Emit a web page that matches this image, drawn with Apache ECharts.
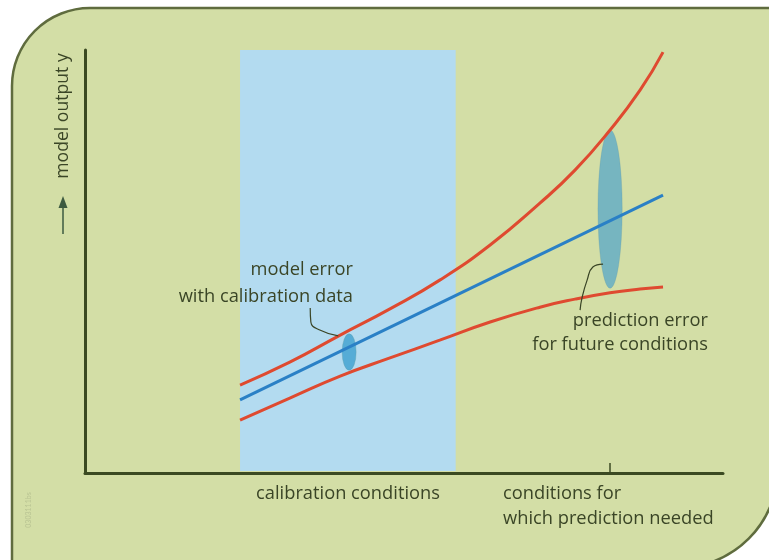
<!DOCTYPE html>
<html>
<head>
<meta charset="utf-8">
<script src="https://cdn.jsdelivr.net/npm/echarts@6/dist/echarts.min.js"></script>
<style>
html,body{margin:0;padding:0;background:#fff}
#main{width:769px;height:560px}
</style>
</head>
<body>
<div id="main"></div>
<script>
// conditions axis (0..10) and model output axis (0..100), no units
var xs = [2.43, 3.21, 4.00, 4.78, 5.56, 6.35, 7.13, 7.68, 8.23, 8.70, 9.06];
var upperBand = [20.8, 26.2, 32.6, 38.8, 45.6, 53.9, 63.8, 71.6, 81.1, 90.5, 99.5];
var lowerBand = [12.5, 17.7, 22.9, 27.2, 31.4, 35.7, 39.2, 41.1, 42.6, 43.5, 44.0];
var modelLine = [[2.43, 17.3], [9.06, 65.7]];
var calibRange = [2.43, 5.81];
var futureTick = [8.23];
// x, y, half width, half height (axis units)
var errorEllipses = [[4.14, 28.6, 0.11, 4.3], [8.23, 62.4, 0.19, 18.7]];
var ellipseColors = ['#55acd6', '#76b5c0'];
var calibHook = [[3.53, 39.0], [3.54, 35.7], [3.68, 33.8], [3.97, 32.4]];
var predHook = [[8.12, 49.4], [7.96, 48.7], [7.87, 45.6], [7.79, 41.4], [7.76, 38.5]];

var txt = '#3a4526';
var font = '18.3px "Open Sans"';

function pairs(x, y){
	var out = [];
	for (var i = 0; i < x.length; i++) out.push([x[i], y[i]]);
	return out;
}
function label(text, x, y, align){
	return {type: 'text', z: 20, x: x, y: y,
		style: {text: text, font: font, fill: txt, align: align, verticalAlign: 'middle'}};
}

var chart = echarts.init(document.getElementById('main'));
var option = {
	animation: false,
	grid: {left: 85, right: 46, top: 50, bottom: 87},
	xAxis: {
		type: 'value', min: 0, max: 10,
		splitLine: {show: false},
		axisLabel: {show: false},
		axisLine: {show: true, lineStyle: {color: '#3b4a22', width: 3}},
		axisTick: {show: true, inside: true, length: 10, customValues: futureTick, lineStyle: {color: '#3b4a22', width: 1.5}}
	},
	yAxis: {
		type: 'value', min: 0, max: 100,
		splitLine: {show: false},
		axisLabel: {show: false},
		axisTick: {show: false},
		axisLine: {show: true, lineStyle: {color: '#3b4a22', width: 3}}
	},
	graphic: [
		{type: 'rect', z: -10, shape: {x: 12, y: 8, width: 766, height: 560, r: [78, 0, 100, 0]},
			style: {fill: '#d3dea6', stroke: '#5f6c3e', lineWidth: 2.5}},
		{type: 'text', z: 20, x: 63, y: 116, rotation: Math.PI / 2,
			style: {text: 'model output y', font: '17.6px "Open Sans"', fill: txt, align: 'center', verticalAlign: 'middle'}},
		{type: 'line', z: 20, shape: {x1: 63, y1: 234, x2: 63, y2: 206}, style: {stroke: '#3d5a40', lineWidth: 1.5}},
		{type: 'polygon', z: 20, shape: {points: [[63, 196], [58.5, 208], [67.5, 208]]}, style: {fill: '#3d5a40'}},
		{type: 'text', z: 20, x: 29, y: 510, rotation: Math.PI / 2,
			style: {text: '0303111bs', font: '7px Lato', fill: '#b9c493', align: 'center', verticalAlign: 'middle'}},
		label('model error', 353, 270, 'right'),
		label('with calibration data', 353, 297, 'right'),
		label('prediction error', 708, 321, 'right'),
		label('for future conditions', 708, 345, 'right'),
		label('calibration conditions', 348, 494, 'center'),
		label('conditions for', 503, 494, 'left'),
		label('which prediction needed', 503, 519, 'left')
	],
	series: [
		{
			type: 'line', z: 1, data: [], silent: true,
			markArea: {silent: true, itemStyle: {color: '#b3dbf0'},
				data: [[{xAxis: calibRange[0], yAxis: 0.5}, {xAxis: calibRange[1], yAxis: 100}]]}
		},
		{
			type: 'custom', z: 2, data: errorEllipses,
			renderItem: function(params, api){
				var c = api.coord([api.value(0), api.value(1)]);
				var s = api.size([api.value(2), api.value(3)]);
				return {type: 'circle', x: c[0], y: c[1], scaleX: s[0] / s[1],
					shape: {cx: 0, cy: 0, r: s[1]},
					style: {fill: ellipseColors[params.dataIndex], stroke: '#5f9aa5', lineWidth: 0.5}};
			}
		},
		{type: 'line', z: 3, smooth: true, symbol: 'none', data: pairs(xs, upperBand), lineStyle: {color: '#df4a30', width: 3}},
		{type: 'line', z: 3, smooth: true, symbol: 'none', data: pairs(xs, lowerBand), lineStyle: {color: '#df4a30', width: 3}},
		{type: 'line', z: 3, symbol: 'none', data: modelLine, lineStyle: {color: '#2a80c6', width: 3}},
		{type: 'line', z: 4, smooth: 0.5, symbol: 'none', data: calibHook, lineStyle: {color: '#3a4526', width: 1.2}},
		{type: 'line', z: 4, smooth: 0.5, symbol: 'none', data: predHook, lineStyle: {color: '#3a4526', width: 1.2}}
	]
};
chart.setOption(option);
</script>
</body>
</html>
